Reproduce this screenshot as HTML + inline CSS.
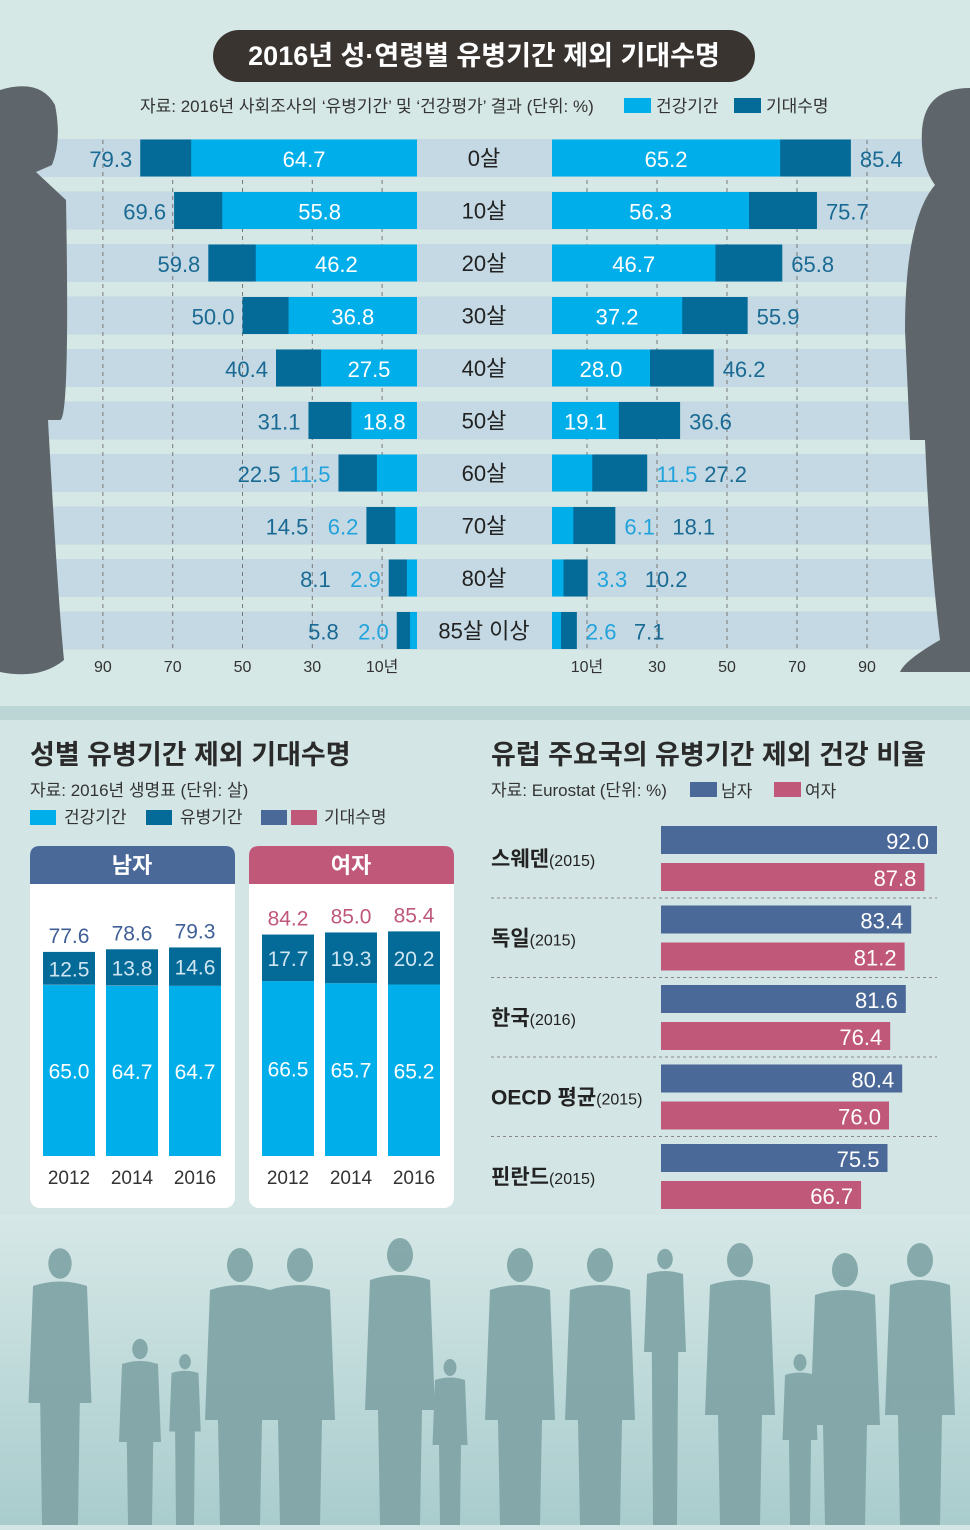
<!DOCTYPE html>
<html><head><meta charset="utf-8">
<style>
body{margin:0;width:970px;height:1525px;overflow:hidden;background:#d3e6e5;font-family:"Liberation Sans Narrow","Liberation Sans","Noto Sans CJK KR",sans-serif;}
svg text{font-family:"Liberation Sans Narrow","Liberation Sans","Noto Sans CJK KR",sans-serif;}
</style></head>
<body>
<svg id="s" width="970" height="1525" xmlns="http://www.w3.org/2000/svg">
<defs>
<linearGradient id="bg2" x1="0" y1="0" x2="0" y2="1"><stop offset="0" stop-color="#d6e8e7"/><stop offset="1" stop-color="#a9cccd"/></linearGradient>
</defs>
<rect x="0" y="0" width="970" height="710" fill="#d5e8e6"/>
<rect x="0" y="706" width="970" height="14" fill="#bcd6d6"/>
<rect x="0" y="720" width="970" height="500" fill="#d3e6e5"/>
<rect x="0" y="1215" width="970" height="310" fill="url(#bg2)"/>
<g id="topG"></g>
<g id="people" fill="#82a6a8" opacity="0.95"></g>
<rect x="213" y="30" width="542" height="52" rx="26" fill="#3a3431"/>
<text x="484" y="65" text-anchor="middle" font-size="27" font-weight="bold" fill="#fff">2016년 성·연령별 유병기간 제외 기대수명</text>
<text x="140" y="112" font-size="17" fill="#333">자료: 2016년 사회조사의 ‘유병기간’ 및 ‘건강평가’ 결과 (단위: %)</text>
<rect x="624" y="98" width="27" height="15" fill="#00aeea"/>
<text x="656" y="112" font-size="17" fill="#333">건강기간</text>
<rect x="734" y="98" width="27" height="15" fill="#046a97"/>
<text x="766" y="112" font-size="17" fill="#333">기대수명</text>
<text x="30" y="764" font-size="27" font-weight="bold" fill="#2a2a2a">성별 유병기간 제외 기대수명</text>
<text x="30" y="796" font-size="17" fill="#333">자료: 2016년 생명표 (단위: 살)</text>
<rect x="30" y="810" width="26" height="15" fill="#00aeea"/>
<text x="64" y="823" font-size="17" fill="#333">건강기간</text>
<rect x="146" y="810" width="26" height="15" fill="#046a97"/>
<text x="180" y="823" font-size="17" fill="#333">유병기간</text>
<rect x="261" y="810" width="26" height="15" fill="#4a6898"/>
<rect x="291" y="810" width="26" height="15" fill="#c0587a"/>
<text x="324" y="823" font-size="17" fill="#333">기대수명</text>
<g id="sexG"></g>
<text x="491" y="764" font-size="27" font-weight="bold" fill="#2a2a2a">유럽 주요국의 유병기간 제외 건강 비율</text>
<text x="491" y="796" font-size="17" fill="#333">자료: Eurostat (단위: %)</text>
<rect x="690" y="782" width="27" height="15" fill="#4a6898"/>
<text x="721" y="797" font-size="17" fill="#333">남자</text>
<rect x="774" y="782" width="27" height="15" fill="#c0587a"/>
<text x="805" y="797" font-size="17" fill="#333">여자</text>
<g id="euG"></g>
</svg>
<script>
const ages=["0살","10살","20살","30살","40살","50살","60살","70살","80살","85살 이상"];
const maleHealthy=[64.7,55.8,46.2,36.8,27.5,18.8,11.5,6.2,2.9,2.0];
const maleLife=[79.3,69.6,59.8,50.0,40.4,31.1,22.5,14.5,8.1,5.8];
const femaleHealthy=[65.2,56.3,46.7,37.2,28.0,19.1,11.5,6.1,3.3,2.6];
const femaleLife=[85.4,75.7,65.8,55.9,46.2,36.6,27.2,18.1,10.2,7.1];
const axisTicks=[90,70,50,30,10];

const years=["2012","2014","2016"];
const mHealthy=[65.0,64.7,64.7];
const mSick=[12.5,13.8,14.6];
const mLife=[77.6,78.6,79.3];
const fHealthy=[66.5,65.7,65.2];
const fSick=[17.7,19.3,20.2];
const fLife=[84.2,85.0,85.4];

const countries=["스웨덴","독일","한국","OECD 평균","핀란드"];
const countryYears=["(2015)","(2015)","(2016)","(2015)","(2015)"];
const euMale=[92.0,83.4,81.6,80.4,75.5];
const euFemale=[87.8,81.2,76.4,76.0,66.7];

const NS="http://www.w3.org/2000/svg";
function mk(p,tag,a,txt){const e=document.createElementNS(NS,tag);for(const k in a)e.setAttribute(k,a[k]);if(txt!==undefined)e.textContent=txt;p.appendChild(e);return e;}
const f1=v=>v.toFixed(1);

const topG=document.getElementById('topG');
const lx=v=>417-v*3.49, rx=v=>552+v*3.5;
const rowY=i=>158+i*52.5;
for(let i=0;i<ages.length;i++){
  const b=mk(topG,'rect',{x:36,y:rowY(i)-19,width:910,height:38,fill:'#c4d9e3'});
  
  
}
axisTicks.forEach(t=>{
  [lx(t),rx(t)].forEach(x=>{
    const l=mk(topG,'line',{x1:x,y1:140,x2:x,y2:650,stroke:'#777','stroke-dasharray':'4,4','stroke-width':1});
    
    
  });
  const a=mk(topG,'text',{x:lx(t),y:672,'text-anchor':'middle','font-size':16,fill:'#333'},t===10?'10년':String(t));
  
  
  const c=mk(topG,'text',{x:rx(t),y:672,'text-anchor':'middle','font-size':16,fill:'#333'},t===10?'10년':String(t));
  
  
});
ages.forEach((ag,i)=>{
  const y=rowY(i), h=37, y0=y-18.5;
  const ml=mk(topG,'rect',{x:lx(maleLife[i]),y:y0,width:lx(0)-lx(maleLife[i]),height:h,fill:'#046a97'});
  
  
  const mh=mk(topG,'rect',{x:lx(maleHealthy[i]),y:y0,width:lx(0)-lx(maleHealthy[i]),height:h,fill:'#00aeea'});
  
  
  const fl=mk(topG,'rect',{x:rx(0),y:y0,width:rx(femaleLife[i])-rx(0),height:h,fill:'#046a97'});
  
  
  const fh=mk(topG,'rect',{x:rx(0),y:y0,width:rx(femaleHealthy[i])-rx(0),height:h,fill:'#00aeea'});
  
  
  const lab=mk(topG,'text',{x:484,y:y+8,'text-anchor':'middle','font-size':22,fill:'#222'},ag);
  
  
  const ty=y+9;
  if(maleHealthy[i]>15){
    const t1=mk(topG,'text',{x:(lx(maleHealthy[i])+lx(0))/2,y:ty,'text-anchor':'middle','font-size':22,fill:'#fff'},f1(maleHealthy[i]));
    
    
    const t2=mk(topG,'text',{x:lx(maleLife[i])-8,y:ty,'text-anchor':'end','font-size':22,fill:'#1a6a94'},f1(maleLife[i]));
    
    
  } else {
    const t1=mk(topG,'text',{x:lx(maleLife[i])-8,y:ty,'text-anchor':'end','font-size':22,fill:'#22a3dc'},f1(maleHealthy[i]));
    
    
    const t2=mk(topG,'text',{x:lx(maleLife[i])-58,y:ty,'text-anchor':'end','font-size':22,fill:'#1a6a94'},f1(maleLife[i]));
    
    
  }
  if(femaleHealthy[i]>15){
    const t1=mk(topG,'text',{x:(rx(femaleHealthy[i])+rx(0))/2,y:ty,'text-anchor':'middle','font-size':22,fill:'#fff'},f1(femaleHealthy[i]));
    
    
    const t2=mk(topG,'text',{x:rx(femaleLife[i])+9,y:ty,'font-size':22,fill:'#1a6a94'},f1(femaleLife[i]));
    
    
  } else {
    const t1=mk(topG,'text',{x:rx(femaleLife[i])+9,y:ty,'font-size':22,fill:'#22a3dc'},f1(femaleHealthy[i]));
    
    
    const t2=mk(topG,'text',{x:rx(femaleLife[i])+57,y:ty,'font-size':22,fill:'#1a6a94'},f1(femaleLife[i]));
    
    
  }
});
const man=mk(topG,'path',{d:'M0 90 Q40 78 55 105 Q62 140 52 165 L36 172 L66 200 Q70 420 60 420 L48 420 Q58 600 64 660 Q40 680 0 672 Z',fill:'#5f666b'});


const woman=mk(topG,'path',{d:'M970 88 Q925 88 922 130 Q920 165 935 185 Q905 220 905 330 L910 440 L925 440 Q930 560 940 640 Q905 660 900 672 L970 672 Z',fill:'#5f666b'});



const sexG=document.getElementById('sexG');
const baseY=1156, kk=2.63;
function card(x,title,color,H,S,L,lc){
  const c=mk(sexG,'rect',{x:x,y:846,width:205,height:362,rx:10,fill:'#fff'});
  
  
  const hd=mk(sexG,'path',{d:`M${x} 884 L${x} 856 Q${x} 846 ${x+10} 846 L${x+195} 846 Q${x+205} 846 ${x+205} 856 L${x+205} 884 Z`,fill:color});
  
  
  const ht=mk(sexG,'text',{x:x+102,y:873,'text-anchor':'middle','font-size':22,'font-weight':'bold',fill:'#fff'},title);
  
  
  years.forEach((yr,i)=>{
    const bx=x+13+i*63, w=52;
    const hb=mk(sexG,'rect',{x:bx,y:baseY-H[i]*kk,width:w,height:H[i]*kk,fill:'#00aeea'});
    
    
    const sb=mk(sexG,'rect',{x:bx,y:baseY-L[i]*kk,width:w,height:S[i]*kk,fill:'#046a97'});
    
    
    const t1=mk(sexG,'text',{x:bx+w/2,y:baseY-H[i]*kk/2+8,'text-anchor':'middle','font-size':21,fill:'#fff'},f1(H[i]));
    
    
    const t2=mk(sexG,'text',{x:bx+w/2,y:baseY-(H[i]+S[i]/2)*kk+8,'text-anchor':'middle','font-size':21,fill:'#cfe6f2'},f1(S[i]));
    
    
    const t3=mk(sexG,'text',{x:bx+w/2,y:baseY-L[i]*kk-9,'text-anchor':'middle','font-size':21,fill:lc},f1(L[i]));
    
    
    const t4=mk(sexG,'text',{x:bx+w/2,y:1184,'text-anchor':'middle','font-size':19,fill:'#333'},yr);
    
    
  });
}
card(30,'남자','#4a6898',mHealthy,mSick,mLife,'#3f5f96');
card(249,'여자','#c0587a',fHealthy,fSick,fLife,'#c0587a');

const euG=document.getElementById('euG');
const ex=661, ek=3.0;
countries.forEach((c,i)=>{
  const y=826+i*79.5;
  const mb=mk(euG,'rect',{x:ex,y:y,width:euMale[i]*ek,height:28,fill:'#4a6898'});
  
  
  const fb=mk(euG,'rect',{x:ex,y:y+37,width:euFemale[i]*ek,height:28,fill:'#c0587a'});
  
  
  const t1=mk(euG,'text',{x:ex+euMale[i]*ek-8,y:y+23,'text-anchor':'end','font-size':22,fill:'#fff'},f1(euMale[i]));
  
  
  const t2=mk(euG,'text',{x:ex+euFemale[i]*ek-8,y:y+60,'text-anchor':'end','font-size':22,fill:'#fff'},f1(euFemale[i]));
  
  
  const lab=mk(euG,'text',{x:491,y:y+40,'font-size':21,fill:'#222'});
  
  
  mk(lab,'tspan',{'font-weight':'bold'},c);
  mk(lab,'tspan',{'font-size':16},countryYears[i]);
  if(i<countries.length-1){
    const d=mk(euG,'line',{x1:491,y1:y+72,x2:937,y2:y+72,stroke:'#888','stroke-dasharray':'3,3'});
    
    
  }
});

const pp=document.getElementById('people');
const figs=[[60,1250,90],[140,1340,60],[185,1355,45],[240,1250,100],[300,1250,100],[400,1240,100],[450,1360,50],[520,1250,100],[600,1250,100],[665,1250,60],[740,1245,100],[800,1355,50],[845,1255,100],[920,1245,100]];
figs.forEach(f=>{
  const [x,y,w]=f, s=w/100;
  const g=mk(pp,'g',{});
  
  
  mk(g,'ellipse',{cx:x,cy:y+15*s,rx:13*s,ry:17*s});
  mk(g,'path',{d:`M${x-30*s} ${y+40*s} Q${x} ${y+30*s} ${x+30*s} ${y+40*s} L${x+35*s} ${y+170*s} L${x+22*s} ${y+170*s} L${x+20*s} 1525 L${x-20*s} 1525 L${x-22*s} ${y+170*s} L${x-35*s} ${y+170*s} Z`});
});
</script>
</body></html>
